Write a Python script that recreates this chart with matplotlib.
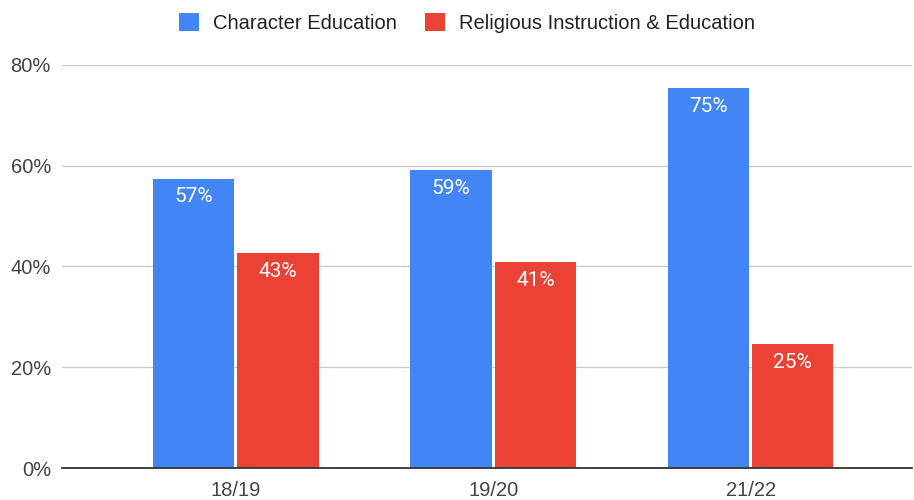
import numpy as np
import matplotlib
matplotlib.use("Agg")
from matplotlib import pyplot as plt
from matplotlib.patches import Patch

# chart data
years = ["18/19", "19/20", "21/22"]
character_ed = [57.4, 59.1, 75.4]
religious_ed = [42.6, 40.9, 24.6]
series_names = ["Character Education", "Religious Instruction & Education"]
colors = ["#4285F4", "#EA4335"]

plt.rcParams['font.family'] = ['Liberation Sans', 'DejaVu Sans']

fig = plt.figure(figsize=(9.14, 5.0), dpi=100)
ax = fig.add_axes([62 / 914, 32 / 500, 850 / 914, 403 / 500])

x = np.arange(len(years))
w = 0.315
off = 0.164
b1 = ax.bar(x - off, character_ed, width=w, color=colors[0], zorder=3)
b2 = ax.bar(x + off, religious_ed, width=w, color=colors[1], zorder=3)

# value labels inside the top of each bar
for bars, vals in [(b1, character_ed), (b2, religious_ed)]:
    for rect, v in zip(bars, vals):
        ax.annotate(f"{round(v)}%", (rect.get_x() + rect.get_width() / 2, v),
                    xytext=(0, -13), textcoords="offset points", ha="center", va="center",
                    color="white", fontsize=15, family=["Roboto", "DejaVu Sans"], zorder=4)

ax.set_xlim(-0.675, 2.627)
ax.set_ylim(0, 80)
ax.set_yticks([0, 20, 40, 60, 80])
ax.set_yticklabels([f"{t}%" for t in [0, 20, 40, 60, 80]])
ax.set_xticks(x)
ax.set_xticklabels(years)
ax.tick_params(axis="both", length=0, labelsize=14.5, labelcolor="#444444")
ax.tick_params(axis="y", pad=8)
ax.tick_params(axis="x", pad=9)
ax.grid(axis="y", color="#cccccc", linewidth=1, zorder=0)
for s in ["top", "right", "left"]:
    ax.spines[s].set_visible(False)
ax.spines["bottom"].set_color("#333333")
ax.spines["bottom"].set_linewidth(1.3)
ax.spines["bottom"].set_zorder(5)

handles = [Patch(facecolor=c, edgecolor="none") for c in colors]
fig.legend(handles, series_names, loc="center", bbox_to_anchor=(0.511, 1 - 23 / 500), ncol=2,
           frameon=False, fontsize=14.5, handlelength=1.0, handleheight=1.0,
           columnspacing=1.4, handletextpad=0.7, labelcolor="#222222",
           borderpad=0, borderaxespad=0)

fig.savefig("out.png", dpi=100)
